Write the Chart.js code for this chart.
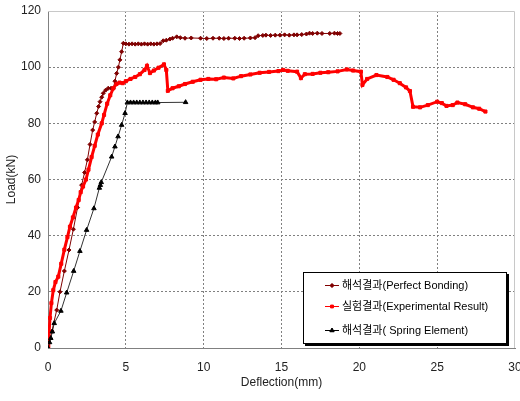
<!DOCTYPE html>
<html>
<head>
<meta charset="utf-8">
<script src="https://cdn.jsdelivr.net/npm/chart.js@4/dist/chart.umd.min.js"></script>
<style>
html,body{margin:0;padding:0;background:#fff;}
#c{display:block;}
</style>
</head>
<body>
<canvas id="c" width="520" height="401"></canvas>
<script>
// ---- data ----
const seriesNames = ['해석결과(Perfect Bonding)', '실험결과(Experimental Result)', '해석결과( Spring Element)'];
const xTitle = 'Deflection(mm)';
const yTitle = 'Load(kN)';

const pbX = [0, 0.25, 0.56, 0.77, 1.05, 1.35, 1.63, 1.9, 2.16, 2.35, 2.53, 2.7, 2.87, 3.0, 3.13, 3.25, 3.34, 3.45, 3.55, 3.7, 3.87, 4.05, 4.2, 4.3, 4.41, 4.52, 4.62, 4.73, 4.84, 5.0, 5.2, 5.4, 5.6, 5.8, 6.0, 6.2, 6.4, 6.6, 6.8, 7.0, 7.2, 7.4, 7.6, 7.83, 8.0, 8.27, 8.5, 8.8, 9.2, 9.8, 10.2, 10.6, 11.0, 11.3, 11.6, 12.0, 12.3, 12.6, 13.0, 13.3, 13.5, 13.8, 14.0, 14.3, 14.6, 14.9, 15.2, 15.5, 15.8, 16.0, 16.3, 16.6, 16.8, 17.0, 17.3, 17.6, 18.1, 18.4, 18.6, 18.75];
const pbY = [0, 6, 13.5, 20, 27.4, 34.9, 42.3, 50, 58, 62.5, 67, 72.5, 77.6, 80.5, 83.6, 86, 87.7, 89.3, 90.7, 91.8, 92.5, 92.5, 92.5, 95, 97.8, 100, 102.6, 105.5, 108.5, 108.3, 108.2, 108.3, 108.2, 108.3, 108.2, 108.3, 108.2, 108.3, 108.2, 108.3, 108.4, 109.4, 109.6, 110.0, 110.3, 110.8, 110.5, 110.3, 110.4, 110.3, 110.2, 110.3, 110.3, 110.2, 110.3, 110.3, 110.2, 110.3, 110.4, 110.5, 111.2, 111.3, 111.4, 111.3, 111.4, 111.4, 111.5, 111.4, 111.5, 111.5, 111.6, 111.8, 112.1, 112.0, 112.1, 112.0, 112.0, 112.1, 112.0, 112.0];

const expX = [0, 0.05, 0.13, 0.22, 0.34, 0.48, 0.66, 0.85, 1.05, 1.25, 1.41, 1.6, 1.8, 1.97, 2.1, 2.25, 2.44, 2.6, 2.8, 3.0, 3.2, 3.45, 3.6, 3.8, 4.0, 4.2, 4.4, 4.6, 4.8, 5.0, 5.3, 5.6, 5.9, 6.2, 6.36, 6.55, 6.8, 7.1, 7.45, 7.6, 7.7, 8.0, 8.4, 8.8, 9.3, 9.8, 10.3, 10.8, 11.3, 11.9, 12.4, 13.0, 13.6, 14.2, 14.8, 15.1, 15.4, 16.0, 16.25, 16.5, 17.0, 17.5, 18.0, 18.6, 19.2, 19.6, 20.1, 20.2, 20.5, 21.1, 21.8, 22.2, 22.6, 23.0, 23.25, 23.45, 23.9, 24.4, 25.0, 25.3, 25.6, 26.0, 26.3, 26.8, 27.3, 27.7, 28.1];
const expY = [0, 4, 10.7, 16, 20.6, 23.5, 25.4, 30, 35, 39.5, 43.2, 46.5, 50, 52.7, 55.5, 57.5, 60, 63.5, 68, 72, 76, 80, 83, 87, 90, 92.5, 94, 94.5, 94.3, 95, 95.8, 96.5, 97.5, 99, 100.5, 97.9, 98.8, 99.8, 101, 99, 91.6, 92.5, 93.2, 94, 94.8, 95.5, 95.8, 95.7, 96.3, 96.0, 96.8, 97.4, 98, 98.3, 98.6, 99, 98.7, 98.4, 96.1, 97.5, 97.6, 98, 98.2, 98.5, 99.2, 98.8, 98.4, 93.7, 95.8, 97.2, 96.5, 95.5, 94.3, 92.8, 91.5, 85.9, 85.7, 86.5, 87.7, 87.2, 86.2, 86.5, 87.4, 86.8, 85.7, 85.2, 84.2];

const spX = [0, 0.1, 0.18, 0.28, 0.4, 0.83, 1.2, 1.65, 2.05, 2.48, 2.95, 3.3, 3.36, 3.42, 4.09, 4.3, 4.5, 4.73, 4.95, 5.1, 5.3, 5.5, 5.7, 5.9, 6.1, 6.3, 6.5, 6.7, 6.9, 7.05, 8.84];
const spY = [0, 2, 3.5, 5.8, 8.8, 13.2, 19.7, 27.4, 34.5, 42, 49.7, 57, 58, 59, 68.1, 71.7, 75.3, 79.4, 83.6, 87.4, 87.4, 87.4, 87.4, 87.4, 87.4, 87.4, 87.4, 87.4, 87.4, 87.4, 87.5];

const xTicks = [0, 5, 10, 15, 20, 25, 30];
const yTicks = [0, 20, 40, 60, 80, 100, 120];

// ---- chart ----
const pts = (xs, ys) => xs.map((x, i) => ({x: x, y: ys[i]}));
const colors = ['#800000', '#ff0000', '#000000'];
const tickFont = {family: '"Liberation Sans", Arial, sans-serif', size: 12};
const legendFont = '11px "Liberation Sans", "Noto Sans CJK KR", sans-serif';

const frameAndLegend = {
  id: 'frameAndLegend',
  beforeDatasetsDraw(chart) {
    const {ctx, chartArea: a} = chart;
    ctx.save();
    ctx.strokeStyle = '#c8c8c8';
    ctx.lineWidth = 1;
    ctx.beginPath();
    ctx.moveTo(a.left, a.top + 0.5);
    ctx.lineTo(a.right - 0.5, a.top + 0.5);
    ctx.lineTo(a.right - 0.5, a.bottom);
    ctx.stroke();
    ctx.restore();
  },
  afterDatasetsDraw(chart) {
    const {ctx} = chart;
    const bx = 303, by = 272, bw = 204, bh = 72;
    ctx.save();
    ctx.fillStyle = '#000';
    ctx.fillRect(bx + 2, by + 2, bw, bh);
    ctx.fillStyle = '#fff';
    ctx.fillRect(bx, by, bw, bh);
    ctx.strokeStyle = '#000';
    ctx.lineWidth = 1;
    ctx.strokeRect(bx + 0.5, by + 0.5, bw - 1, bh - 1);
    const rows = [285, 306, 330];
    const styles = ['rectRot', 'rect', 'triangle'];
    const radii = [2, 2, 2.5];
    rows.forEach((yy, i) => {
      ctx.strokeStyle = colors[i];
      ctx.lineWidth = 1;
      ctx.beginPath();
      ctx.moveTo(325, yy + 0.5);
      ctx.lineTo(339, yy + 0.5);
      ctx.stroke();
      ctx.fillStyle = colors[i];
      Chart.helpers.drawPoint(ctx, {pointStyle: styles[i], radius: radii[i], borderWidth: 1, rotation: 0}, 332, yy + 0.5);
      ctx.fill();
      ctx.fillStyle = '#000';
      ctx.font = legendFont;
      ctx.textBaseline = 'middle';
      ctx.textAlign = 'left';
      ctx.fillText(seriesNames[i], 342, yy + 1);
    });
    ctx.restore();
  }
};

const gridColor = (edgeVals) => (c) => (c.tick && edgeVals.includes(c.tick.value)) ? 'rgba(0,0,0,0)' : '#808080';

new Chart(document.getElementById('c'), {
  type: 'line',
  data: {
    datasets: [
      {
        label: seriesNames[0], data: pts(pbX, pbY),
        borderColor: colors[0], backgroundColor: colors[0], borderWidth: 1,
        pointStyle: 'rectRot', pointRadius: 2, pointBorderWidth: 1, tension: 0, order: 2
      },
      {
        label: seriesNames[1], data: pts(expX, expY),
        borderColor: colors[1], backgroundColor: colors[1], borderWidth: 3,
        pointStyle: 'rect', pointRadius: 2.2, pointBorderWidth: 1, tension: 0, order: 1
      },
      {
        label: seriesNames[2], data: pts(spX, spY),
        borderColor: '#333', backgroundColor: colors[2], pointBorderColor: '#000', borderWidth: 1,
        pointStyle: 'triangle', pointRadius: 2.6, pointBorderWidth: 1, tension: 0, order: 0
      }
    ]
  },
  options: {
    responsive: false,
    devicePixelRatio: 1,
    animation: false,
    layout: {padding: {top: 11, right: 3, left: 0, bottom: 0}},
    plugins: {legend: {display: false}, tooltip: {enabled: false}},
    scales: {
      x: {
        type: 'linear', min: 0, max: 30,
        afterFit: (s) => { s.height = 53; s.paddingLeft = 0; s.paddingRight = 0; },
        afterBuildTicks: (s) => { s.ticks = xTicks.map(v => ({value: v})); },
        ticks: {font: tickFont, color: '#222', padding: 12, maxRotation: 0},
        grid: {color: gridColor([0, 30]), drawTicks: false, lineWidth: 1},
        border: {display: true, color: '#808080', width: 1, dash: [2, 2]},
        title: {display: true, text: xTitle, font: tickFont, color: '#222', padding: {top: 0, bottom: 11}}
      },
      y: {
        type: 'linear', min: 0, max: 120,
        afterFit: (s) => { s.width = 48; s.paddingTop = 0; s.paddingBottom = 0; },
        afterBuildTicks: (s) => { s.ticks = yTicks.map(v => ({value: v})); },
        ticks: {font: tickFont, color: '#222', padding: 7},
        grid: {color: gridColor([0, 120]), drawTicks: false, lineWidth: 1},
        border: {display: true, color: '#808080', width: 1, dash: [2, 2]},
        title: {display: true, text: yTitle, font: tickFont, color: '#222', padding: {top: 4, bottom: 0}}
      }
    }
  },
  plugins: [frameAndLegend]
});
</script>
</body>
</html>
